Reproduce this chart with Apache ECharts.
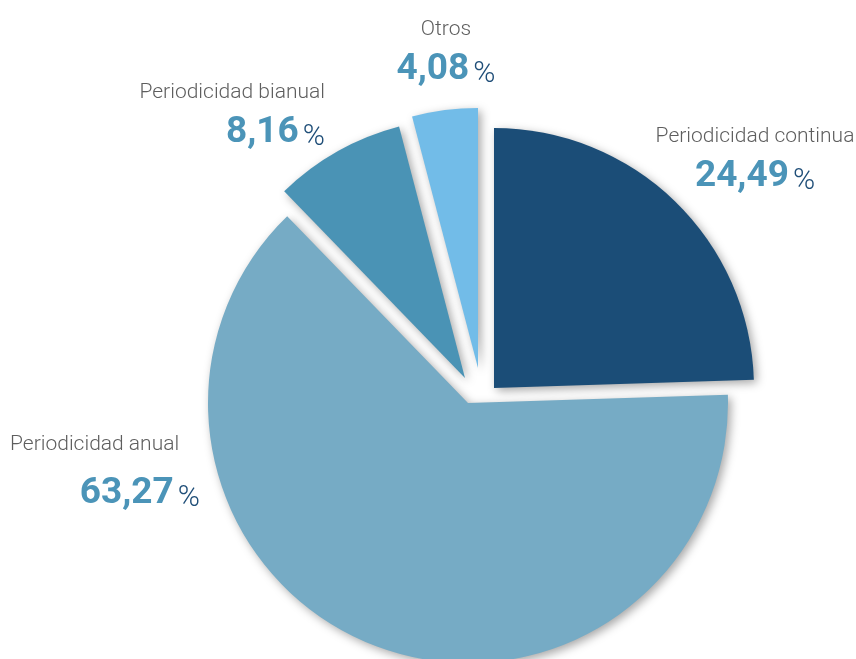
<!DOCTYPE html>
<html>
<head>
<meta charset="utf-8">
<script src="https://cdn.jsdelivr.net/npm/echarts@6/dist/echarts.min.js"></script>
<style>
  html, body { margin: 0; padding: 0; background: #ffffff; }
  #chart { width: 856px; height: 659px; }
</style>
</head>
<body>
<div id="chart"></div>
<script>
const names = ["Periodicidad continua", "Periodicidad anual", "Periodicidad bianual", "Otros"];
const values = [24.49, 63.27, 8.16, 4.08];
const colors = ["#1b4d77", "#76abc5", "#4a93b5", "#72bce8"];

// each slice is its own series so it can be pulled out by its own amount
const centers = [[494, 388], [468, 403], [465, 378], [478, 368]];
const labelSpots = [
  { x: 755, y: 122, align: "center" },
  { x: 10, y: 430, align: "left", width: 190, gap: 68 },
  { x: 325, y: 78, align: "right" },
  { x: 446, y: 15, align: "center" }
];
const drawOrder = [1, 2, 3, 0];

const fmt = v => v.toFixed(2).replace(".", ",");
const font = "Roboto, sans-serif";

const makeSeries = i => {
  const spot = labelSpots[i];
  return {
    type: "pie",
    radius: 260,
    center: centers[i],
    startAngle: 90,
    clockwise: true,
    silent: true,
    animation: false,
    avoidLabelOverlap: false,
    label: {
      show: true,
      position: "outside",
      align: spot.align,
      width: spot.width,
      overflow: "none",
      formatter: p => "{n|" + p.name + "}\n{v|" + fmt(p.value) + "}{p|%}",
      rich: {
        n: {
          fontFamily: font,
          fontWeight: 300,
          fontSize: 21,
          color: "#5e5e5e",
          lineHeight: 30,
          align: spot.align === "center" ? "center" : "left"
        },
        v: {
          fontFamily: font,
          fontWeight: "bold",
          fontSize: 37,
          color: "#4b94b8",
          lineHeight: spot.gap || 50,
          align: spot.align === "center" ? "center" : "right"
        },
        p: {
          fontFamily: font,
          fontWeight: 300,
          fontSize: 30,
          color: "#1f4e78",
          padding: [8, 0, 0, 4],
          lineHeight: spot.gap || 50,
          align: spot.align === "center" ? "center" : "right"
        }
      }
    },
    labelLine: { show: false },
    labelLayout: () => ({ x: spot.x, y: spot.y, align: spot.align, verticalAlign: "top" }),
    data: values.map((v, j) => ({
      value: v,
      name: names[j],
      itemStyle: j === i
        ? {
            color: colors[j],
            shadowBlur: 10,
            shadowColor: "rgba(0,0,0,0.35)",
            shadowOffsetX: 3,
            shadowOffsetY: 3
          }
        : { opacity: 0 },
      label: { show: j === i }
    }))
  };
};

const myChart = echarts.init(document.getElementById("chart"));
myChart.setOption({
  backgroundColor: "#ffffff",
  series: drawOrder.map(makeSeries)
});
</script>
</body>
</html>
